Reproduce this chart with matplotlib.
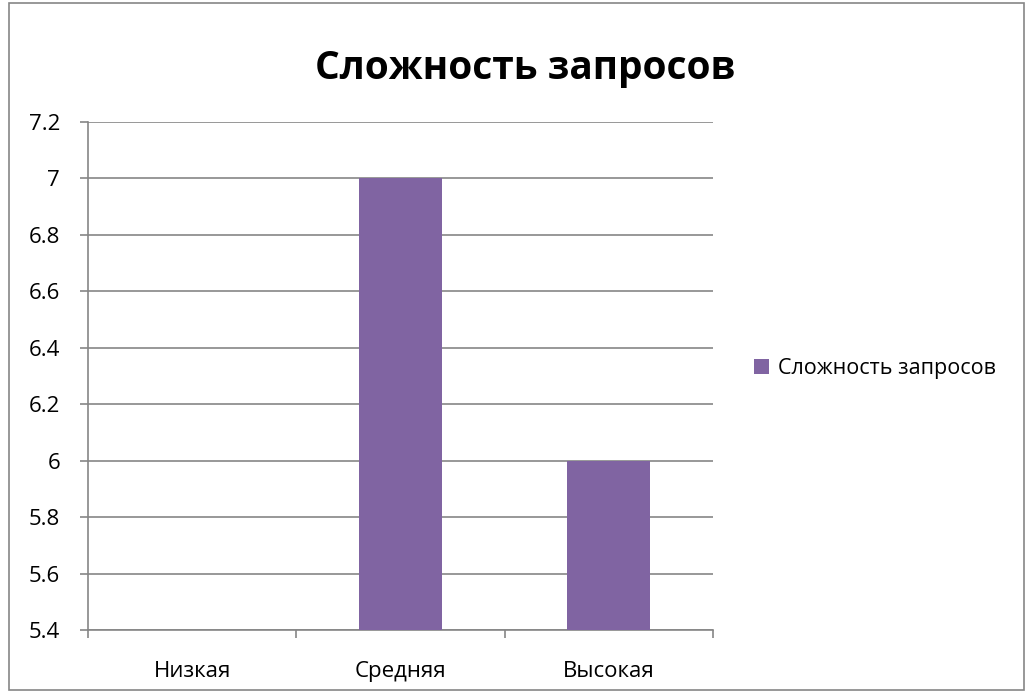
import matplotlib
matplotlib.use('Agg')
import matplotlib.pyplot as plt
from matplotlib.patches import Rectangle

# Данные
categories = ['Низкая', 'Средняя', 'Высокая']
values = [5, 7, 6]
series_name = 'Сложность запросов'
yticks = [5.4, 5.6, 5.8, 6.0, 6.2, 6.4, 6.6, 6.8, 7.0, 7.2]
ytick_labels = ['5.4', '5.6', '5.8', '6', '6.2', '6.4', '6.6', '6.8', '7', '7.2']

plt.rcParams['font.family'] = ['Open Sans', 'DejaVu Sans']

fig = plt.figure(figsize=(10.33, 6.93), dpi=100)
ax = fig.add_axes([0.0852, 0.0909, 0.605, 0.733])

x = list(range(len(categories)))
ax.bar(x, values, width=0.40, color='#8064A2', label=series_name, zorder=3)

ax.set_xlim(-0.5, 2.5)
ax.set_ylim(5.4, 7.2)
ax.set_yticks(yticks)
ax.set_yticklabels(ytick_labels, fontsize=16)
ax.set_xticks(x)
ax.set_xticklabels(categories, fontsize=16)
ax.xaxis.set_minor_locator(matplotlib.ticker.FixedLocator([-0.5, 0.5, 1.5, 2.5]))
ax.tick_params(axis='x', which='major', length=0, pad=22)
ax.tick_params(axis='x', which='minor', length=6, color='#868686', width=1.2)
ax.tick_params(axis='y', length=6, color='#868686', width=1.2, pad=14)
ax.grid(axis='y', color='#868686', linewidth=1.2, zorder=0)

for s in ['top', 'right']:
    ax.spines[s].set_visible(False)
for s in ['left', 'bottom']:
    ax.spines[s].set_color('#868686')
    ax.spines[s].set_linewidth(1.2)

fig.suptitle(series_name, fontsize=28, fontweight='bold', x=0.508, y=0.93)

ax.legend(loc='center left', bbox_to_anchor=(1.035, 0.515), frameon=False,
          fontsize=15.5, handlelength=0.7, handleheight=0.7, handletextpad=0.4)

fig.patches.append(Rectangle((0.009, 0.004), 0.982, 0.992, transform=fig.transFigure,
                             fill=False, edgecolor='#868686', linewidth=1.2))

fig.savefig('out.png', dpi=100)
